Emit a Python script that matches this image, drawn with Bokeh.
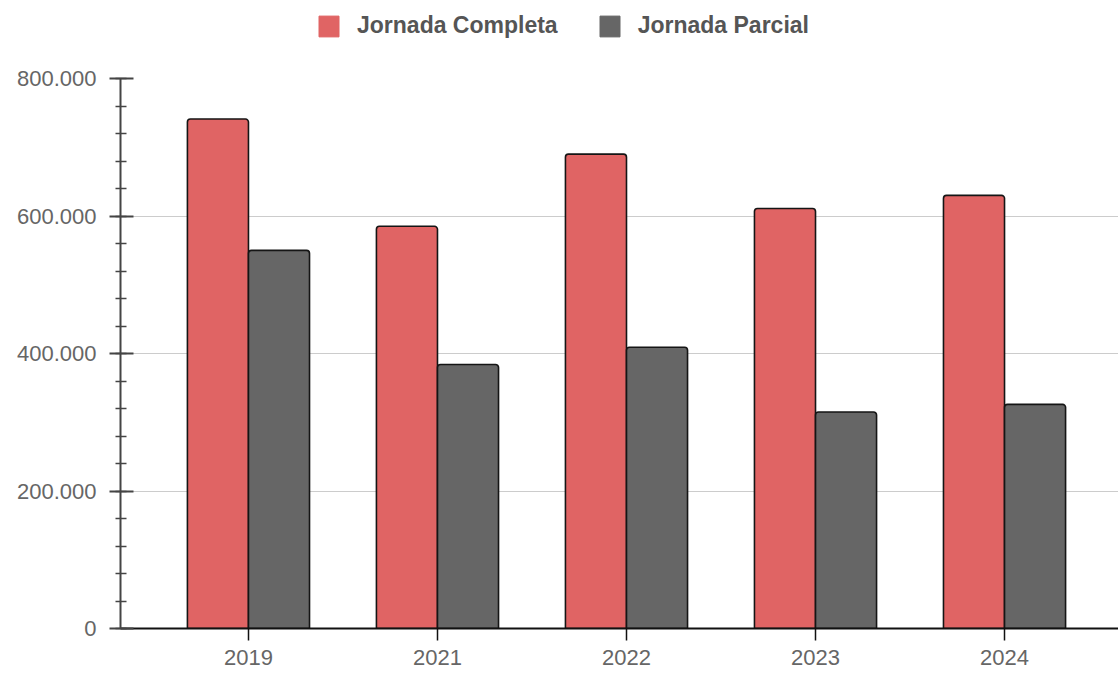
from bokeh.plotting import figure
from bokeh.models import ColumnDataSource, Range1d, FixedTicker, Legend, LegendItem
from bokeh.layouts import column
from bokeh.embed import file_html
from bokeh.resources import INLINE
import numpy as np

years = ["2019", "2021", "2022", "2023", "2024"]
completa = [741000, 585000, 690000, 611000, 630000]
parcial = [550000, 384000, 409000, 315000, 326000]
series_names = ["Jornada Completa", "Jornada Parcial"]
series_colors = ["#e06464", "#666666"]
y_ticks = [0, 200000, 400000, 600000, 800000]
y_tick_labels = ["0", "200.000", "400.000", "600.000", "800.000"]

idx = np.arange(len(years))
bw = 0.323

# ---- legend strip ----
lf = figure(width=1118, height=64, output_backend="svg", toolbar_location=None,
            x_range=Range1d(0, 1), y_range=Range1d(0, 1),
            min_border=0, x_axis_type=None, y_axis_type=None)
lf.outline_line_color = None
lf.grid.grid_line_color = None
offscreen = ColumnDataSource(dict(x=[-10.0], top=[-10.0]))
r_leg = []
for col in series_colors:
    r_leg.append(lf.vbar(x="x", top="top", bottom=-11.0, width=0.1, source=offscreen,
                         fill_color=col, line_color=col))
legend = Legend(items=[LegendItem(label=n, renderers=[r]) for n, r in zip(series_names, r_leg)],
                orientation="horizontal", location=(196, 25),
                glyph_width=25, glyph_height=26, label_standoff=16, spacing=39,
                padding=0, margin=0, border_line_color=None, background_fill_alpha=0,
                label_text_font="Liberation Sans", label_text_font_style="bold",
                label_text_font_size="23px", label_text_color="#555555")
lf.add_layout(legend, "center")

# ---- main chart ----
p = figure(width=1118, height=610, output_backend="svg", toolbar_location=None,
           x_range=Range1d(-0.677, 4.603), y_range=Range1d(0, 800000),
           min_border_left=120, min_border_right=0, min_border_top=14, min_border_bottom=46)
p.outline_line_color = None
p.background_fill_color = "white"
p.border_fill_color = "white"

src = ColumnDataSource(dict(x1=idx - bw / 2, x2=idx + bw / 2, c=completa, pj=parcial))
p.vbar(x="x1", top="c", width=bw, bottom=0, source=src, fill_color=series_colors[0],
       line_color="#151515", line_width=1.6, border_radius=(3, 3, 0, 0))
p.vbar(x="x2", top="pj", width=bw, bottom=0, source=src, fill_color=series_colors[1],
       line_color="#151515", line_width=1.6, border_radius=(3, 3, 0, 0))

p.xaxis.ticker = FixedTicker(ticks=list(idx))
p.xaxis.major_label_overrides = {int(i): y for i, y in zip(idx, years)}
p.xaxis.axis_line_color = "#111111"
p.xaxis.axis_line_width = 2
p.xaxis.major_tick_line_color = "#111111"
p.xaxis.major_tick_line_width = 1.5
p.xaxis.major_tick_in = 0
p.xaxis.major_tick_out = 12
p.xaxis.minor_tick_line_color = None
p.xaxis.major_label_standoff = 9
p.xaxis.major_label_text_font = "Liberation Sans"
p.xaxis.major_label_text_font_size = "22px"
p.xaxis.major_label_text_color = "#666666"

minor = list(range(0, 800001, 40000))
p.yaxis.ticker = FixedTicker(ticks=y_ticks, minor_ticks=minor)
p.yaxis.major_label_overrides = {t: l for t, l in zip(y_ticks, y_tick_labels)}
p.yaxis.axis_line_color = "#444444"
p.yaxis.axis_line_width = 2
p.yaxis.major_tick_line_color = "#444444"
p.yaxis.major_tick_line_width = 2
p.yaxis.major_tick_in = 13
p.yaxis.major_tick_out = 11
p.yaxis.minor_tick_line_color = "#444444"
p.yaxis.minor_tick_line_width = 1.5
p.yaxis.minor_tick_in = 6
p.yaxis.minor_tick_out = 5
p.yaxis.major_label_standoff = 13
p.yaxis.major_label_text_font = "Liberation Sans"
p.yaxis.major_label_text_font_size = "22px"
p.yaxis.major_label_text_color = "#666666"

p.xgrid.grid_line_color = None
p.ygrid.ticker = FixedTicker(ticks=y_ticks)
p.ygrid.grid_line_color = "#cccccc"
p.ygrid.grid_line_width = 1.2

layout = column(lf, p, spacing=0)
open("out.html", "w").write(file_html(layout, INLINE))
